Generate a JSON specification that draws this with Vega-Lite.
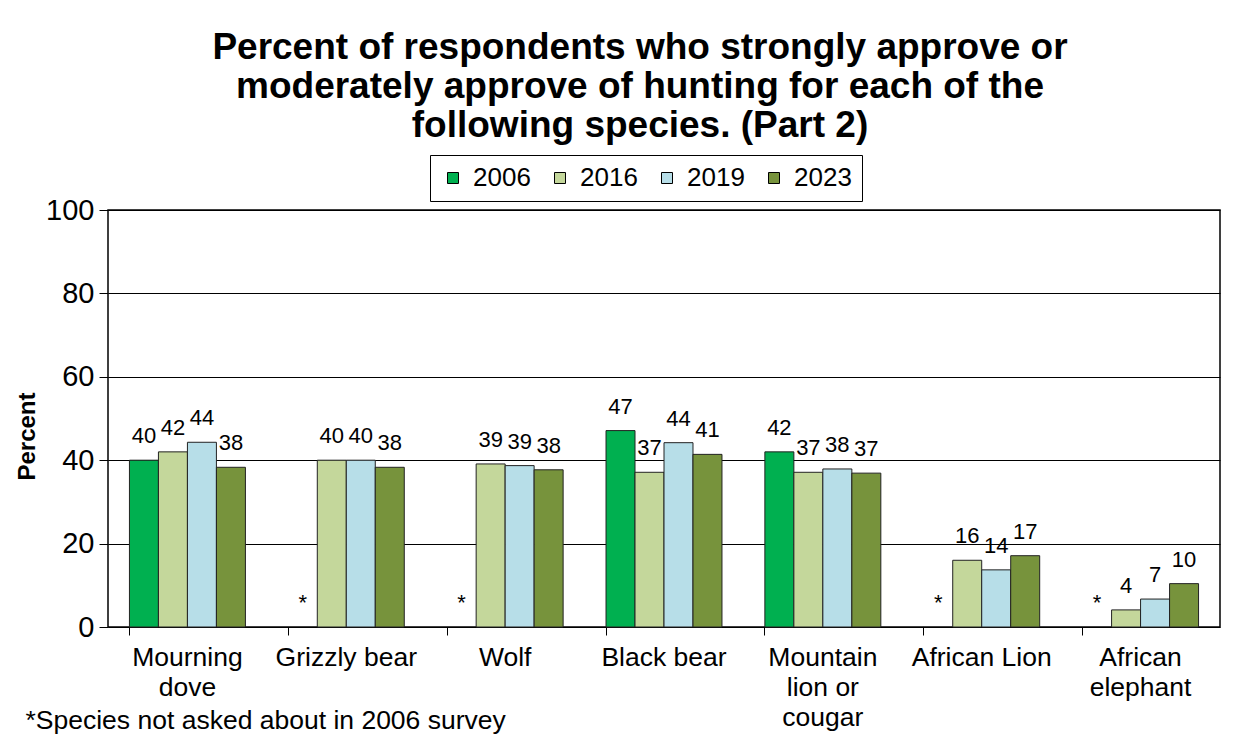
{
  "$schema": "https://vega.github.io/schema/vega-lite/v6.json",
  "width": 1112,
  "height": 417,
  "autosize": {"type": "none"},
  "padding": {"left": 108, "top": 210, "right": 37, "bottom": 115},
  "background": "white",
  "config": {
    "font": "Liberation Sans",
    "view": {"stroke": "black", "strokeWidth": 1.5},
    "legend": {
      "orient": "none",
      "legendX": 322,
      "legendY": -55,
      "direction": "horizontal",
      "strokeColor": "black",
      "fillColor": "white",
      "padding": 10,
      "columnPadding": 16,
      "labelFontSize": 26,
      "labelColor": "black",
      "symbolType": "square",
      "symbolSize": 121,
      "symbolStrokeColor": "black",
      "symbolStrokeWidth": 1,
      "symbolOpacity": 1,
      "labelOffset": 7
    }
  },
  "title": {
    "text": ["Percent of respondents who strongly approve or", "moderately approve of hunting for each of the", "following species. (Part 2)"],
    "fontSize": 37,
    "fontWeight": "bold",
    "lineHeight": 39,
    "anchor": "middle",
    "frame": "group",
    "dx": -24,
    "offset": 10,
    "color": "black"
  },
  "data": {
    "values": [
      {"species": "Mourning dove", "year": "2006", "value": 40.0},
      {"species": "Mourning dove", "year": "2016", "value": 42.0},
      {"species": "Mourning dove", "year": "2019", "value": 44.3},
      {"species": "Mourning dove", "year": "2023", "value": 38.3},
      {"species": "Grizzly bear", "year": "2006", "value": null},
      {"species": "Grizzly bear", "year": "2016", "value": 40.0},
      {"species": "Grizzly bear", "year": "2019", "value": 40.0},
      {"species": "Grizzly bear", "year": "2023", "value": 38.3},
      {"species": "Wolf", "year": "2006", "value": null},
      {"species": "Wolf", "year": "2016", "value": 39.1},
      {"species": "Wolf", "year": "2019", "value": 38.7},
      {"species": "Wolf", "year": "2023", "value": 37.7},
      {"species": "Black bear", "year": "2006", "value": 47.1},
      {"species": "Black bear", "year": "2016", "value": 37.1},
      {"species": "Black bear", "year": "2019", "value": 44.2},
      {"species": "Black bear", "year": "2023", "value": 41.4},
      {"species": "Mountain lion or cougar", "year": "2006", "value": 42.0},
      {"species": "Mountain lion or cougar", "year": "2016", "value": 37.1},
      {"species": "Mountain lion or cougar", "year": "2019", "value": 37.9},
      {"species": "Mountain lion or cougar", "year": "2023", "value": 36.9},
      {"species": "African Lion", "year": "2006", "value": null},
      {"species": "African Lion", "year": "2016", "value": 16.0},
      {"species": "African Lion", "year": "2019", "value": 13.7},
      {"species": "African Lion", "year": "2023", "value": 17.1},
      {"species": "African elephant", "year": "2006", "value": null},
      {"species": "African elephant", "year": "2016", "value": 4.1},
      {"species": "African elephant", "year": "2019", "value": 6.7},
      {"species": "African elephant", "year": "2023", "value": 10.4}
    ]
  },
  "encoding": {
    "x": {
      "field": "species",
      "type": "nominal",
      "sort": null,
      "scale": {"paddingInner": 0.27, "paddingOuter": 0.135},
      "axis": {
        "title": "*Species not asked about in 2006 survey",
        "titleFontSize": 26.5,
        "titleFontWeight": "normal",
        "titleColor": "black",
        "titleAnchor": "start",
        "titleAlign": "left",
        "titleBaseline": "middle",
        "titleX": -83,
        "titleY": 93,
        "labelAngle": 0,
        "labelFontSize": 26.5,
        "labelColor": "black",
        "labelLineHeight": 30,
        "labelBaseline": "top",
        "labelPadding": 9,
        "labelOverlap": false,
        "labelLimit": 0,
        "labelExpr": "datum.value == 'Mourning dove' ? ['Mourning', 'dove'] : datum.value == 'Mountain lion or cougar' ? ['Mountain', 'lion or', 'cougar'] : datum.value == 'African elephant' ? ['African', 'elephant'] : datum.value",
        "ticks": true,
        "bandPosition": 0,
        "tickSize": 8,
        "tickColor": "black",
        "domain": false,
        "grid": false
      }
    },
    "xOffset": {"field": "year", "type": "nominal", "scale": {"paddingInner": 0, "paddingOuter": 0}}
  },
  "layer": [
    {
      "transform": [{"filter": "datum.value != null"}],
      "mark": {"type": "bar", "stroke": "#222222", "strokeWidth": 1},
      "encoding": {
        "y": {
          "field": "value",
          "type": "quantitative",
          "scale": {"domain": [0, 100], "nice": false},
          "axis": {
            "values": [0, 20, 40, 60, 80, 100],
            "title": "Percent",
            "titleFontSize": 24,
            "titleFontWeight": "bold",
            "titleColor": "black",
            "titlePadding": 6,
            "titleY": 226,
            "labelFontSize": 29,
            "labelColor": "black",
            "labelPadding": 5,
            "tickSize": 9,
            "tickColor": "black",
            "grid": true,
            "gridColor": "black",
            "gridWidth": 1,
            "domain": false
          }
        },
        "color": {
          "field": "year",
          "type": "nominal",
          "title": null,
          "scale": {"domain": ["2006", "2016", "2019", "2023"], "range": ["#00B050", "#C4D79B", "#B7DEE8", "#77933C"]}
        }
      }
    },
    {
      "transform": [{"filter": "datum.value != null"}],
      "mark": {"type": "text", "fontSize": 22, "dy": -24, "baseline": "middle", "color": "black"},
      "encoding": {
        "y": {"field": "value", "type": "quantitative"},
        "text": {"field": "value", "type": "quantitative", "format": ".0f"}
      }
    },
    {
      "transform": [{"filter": "datum.value == null"}],
      "mark": {"type": "text", "fontSize": 22, "dy": -24, "baseline": "middle", "color": "black"},
      "encoding": {"y": {"datum": 0}, "text": {"value": "*"}}
    }
  ]
}
